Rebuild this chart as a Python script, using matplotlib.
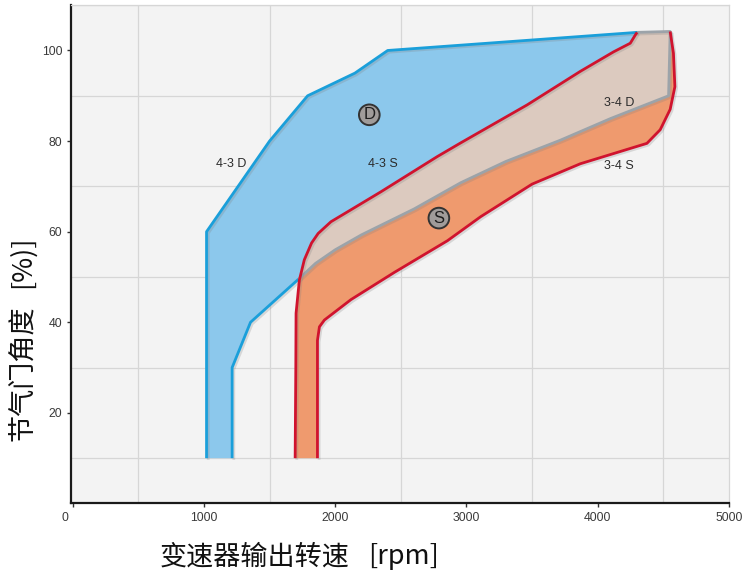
import matplotlib
matplotlib.use("Agg")
import matplotlib.pyplot as plt
import matplotlib.patheffects as pe
from matplotlib.transforms import ScaledTranslation

# 4-3 D shift line (blue), bottom to top edge
d43_rpm = [1020, 1020, 1500, 1790, 2150, 2400, 4300]
d43_thr = [10, 60, 80, 90, 95, 100, 104]

# 3-4 D shift line, lower blue part
d34_low_rpm = [1215, 1215, 1355, 1720]
d34_low_thr = [10, 30, 40, 49.5]

# 3-4 D shift line, grey part (top right corner down to where it meets 4-3 S)
d34_up_rpm = [4300, 4552, 4540, 4100, 3716, 3300, 2956, 2600, 2200, 2000, 1850, 1720]
d34_up_thr = [104, 104.2, 90, 85, 80.2, 75.5, 70.8, 65, 59.3, 56, 53, 49.5]

# 4-3 S shift line (red)
s43_rpm = [1695, 1700, 1702, 1727, 1765, 1820, 1870, 1968, 2095, 2348, 2779, 2956,
           3463, 3868, 4121, 4248, 4286, 4300]
s43_thr = [10, 30, 42, 49.3, 53.8, 57.5, 59.6, 62.2, 64.4, 68.8, 76.6, 79.6,
           88, 95.4, 99.7, 101.6, 103.4, 104]

# 3-4 S shift line (red), bottom to top
s34_rpm = [1865, 1865, 1880, 1918, 2120, 2450, 2855, 3108, 3500, 3868, 4172, 4375,
           4476, 4552, 4588, 4577, 4552]
s34_thr = [10, 36, 39, 40.5, 45, 51, 58, 63.3, 70.5, 75, 77.7, 79.5,
           82.5, 87, 92, 99.4, 104.2]

curve_labels = ["4-3 D", "4-3 S", "3-4 D", "3-4 S"]
curve_label_rpm = [1208, 2360, 4160, 4160]
curve_label_thr = [75, 75, 88.3, 74.5]

mode_labels = ["D", "S"]
mode_rpm = [2260, 2790]
mode_thr = [85.8, 63]

x_ticks = [0, 1000, 2000, 3000, 4000, 5000]
y_ticks = [20, 40, 60, 80, 100]

BLUE_FILL = "#8cc8ec"
BLUE_LINE = "#1a9fda"
ORANGE_FILL = "#ef9a6e"
TAN_FILL = "#dccabf"
RED_LINE = "#d0132e"
GREY_LINE = "#9ca3a9"

fig = plt.figure(figsize=(7.44, 5.82), dpi=100)
ax = fig.add_axes([0.095, 0.1349, 0.8848, 0.8562])
ax.set_facecolor("#f3f3f3")

# regions
d_x = d43_rpm + d34_up_rpm[1:] + d34_low_rpm[::-1][1:]
d_y = d43_thr + d34_up_thr[1:] + d34_low_thr[::-1][1:]
ax.fill(d_x, d_y, color=BLUE_FILL, lw=0, zorder=2)

s_x = s43_rpm + s34_rpm[::-1]
s_y = s43_thr + s34_thr[::-1]
ax.fill(s_x, s_y, color=ORANGE_FILL, lw=0, zorder=3)

o_x = s43_rpm[3:] + d34_up_rpm[1:]
o_y = s43_thr[3:] + d34_up_thr[1:]
ax.fill(o_x, o_y, color=TAN_FILL, lw=0, zorder=4)

shadow = [pe.SimpleLineShadow(offset=(1.2, -1.2), alpha=0.25, shadow_color="gray"), pe.Normal()]

ax.plot(d34_up_rpm, d34_up_thr, color=GREY_LINE, lw=2, zorder=5, path_effects=shadow)
ax.plot(d43_rpm, d43_thr, color=BLUE_LINE, lw=2, zorder=6, path_effects=shadow,
        solid_capstyle="butt", solid_joinstyle="round")
ax.plot(d34_low_rpm, d34_low_thr, color=BLUE_LINE, lw=2, zorder=6, path_effects=shadow,
        solid_capstyle="butt", solid_joinstyle="round")
ax.plot(s43_rpm, s43_thr, color=RED_LINE, lw=2, zorder=7, path_effects=shadow,
        solid_capstyle="butt", solid_joinstyle="round")
ax.plot(s34_rpm, s34_thr, color=RED_LINE, lw=2, zorder=7, path_effects=shadow,
        solid_capstyle="butt", solid_joinstyle="round")

for lbl, x, y in zip(curve_labels, curve_label_rpm, curve_label_thr):
    ax.text(x, y, lbl, fontsize=9, color="#2b2b2b", ha="center", va="center",
            family="Liberation Sans", zorder=8)

for lbl, x, y in zip(mode_labels, mode_rpm, mode_thr):
    ax.text(x, y, lbl, fontsize=12, color="#1e1e1e", ha="center", va="center",
            family="Liberation Sans", zorder=8,
            bbox=dict(boxstyle="circle,pad=0.17", fc="#a09c9a", ec="#333333", lw=1.4))

# axes styling
ax.set_xlim(-15, 5000)
ax.set_ylim(0, 110)
ax.set_xticks(x_ticks)
ax.set_yticks(y_ticks)
ax.set_xticks(range(0, 5001, 500), minor=True)
ax.set_yticks(range(0, 111, 10), minor=True)
ax.grid(which="minor", color="#d6d6d6", lw=0.9, zorder=0)
ax.set_axisbelow(True)
ax.tick_params(which="minor", length=0)
ax.tick_params(which="major", length=3, width=1, color="#333333", labelsize=8.8,
               labelcolor="#3a3a3a", pad=3)
for lab in ax.get_xticklabels() + ax.get_yticklabels():
    lab.set_family("Liberation Sans")

first = ax.get_xticklabels()[0]
first.set_transform(first.get_transform() + ScaledTranslation(-0.08, 0, fig.dpi_scale_trans))

for side in ["left", "bottom"]:
    ax.spines[side].set_color("#1a1a1a")
    ax.spines[side].set_linewidth(1.6)
for side in ["top", "right"]:
    ax.spines[side].set_color("#d6d6d6")
    ax.spines[side].set_linewidth(0.9)

cjk = ["Noto Sans CJK SC", "DejaVu Sans"]
# x label: Chinese part and unit part
fig.text(160 / 744, 1 - 557 / 582, "变速器输出转速", fontsize=19.5, family=cjk,
         ha="left", va="center", color="#111111")
fig.text(439 / 744, 1 - 557 / 582, "[rpm]", fontsize=19.5, family=cjk,
         ha="right", va="center", color="#111111")
# y label
fig.text(22 / 744, 1 - 441 / 582, "节气门角度", fontsize=19.5, family=cjk,
         rotation=90, ha="center", va="bottom", color="#111111")
fig.text(22 / 744, 1 - 236 / 582, "[%)]", fontsize=19.5, family=cjk,
         rotation=90, ha="center", va="top", color="#111111")

fig.savefig("out.png", dpi=100)
